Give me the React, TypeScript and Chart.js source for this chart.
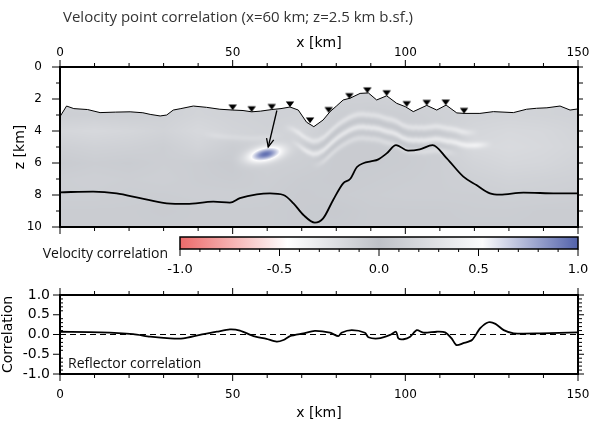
import React, { useEffect, useRef } from 'react';
import { Chart, registerables } from 'chart.js';

Chart.register(...registerables);

// Seafloor profile, x [km] / depth z [km]
const seafloorX = [0, 1.9, 4, 8, 11.6, 16, 20.3, 24, 26.1, 29, 30.9, 32.8, 35, 38.6, 42.4, 46.3, 50, 53, 55.5, 58, 61.3, 64, 66.6, 69, 71.4, 73.5, 76.2, 78.2, 80, 82, 84, 86.9, 89.3, 91.7, 94.6, 97.5, 100, 102.3, 106.2, 109.1, 111.8, 114.9, 117, 121.6, 125.5, 131.3, 135.1, 138, 141, 144.8, 147.7, 150];
const seafloorZ = [3.1, 2.44, 2.6, 2.66, 2.85, 2.82, 2.8, 2.86, 2.96, 3.06, 3.0, 2.69, 2.6, 2.44, 2.52, 2.64, 2.69, 2.72, 2.8, 2.76, 2.66, 2.6, 2.5, 2.69, 3.45, 3.73, 3.31, 2.79, 2.45, 2.06, 1.95, 1.65, 1.62, 2.06, 1.8, 2.27, 2.48, 2.79, 2.4, 2.69, 2.38, 2.87, 2.9, 2.9, 2.79, 2.85, 2.64, 2.58, 2.55, 2.44, 2.69, 2.62];

// Seafloor stations
const stationX = [50, 55.5, 61.3, 66.6, 72.4, 77.8, 83.8, 89, 94.6, 100.4, 106.2, 111.7, 117];
const stationZ = [2.69, 2.8, 2.66, 2.5, 3.5, 2.85, 1.98, 1.62, 1.8, 2.48, 2.4, 2.38, 2.9];

// Reflector depth
const reflectorX = [0, 9.6, 16.4, 23.2, 30.9, 36.7, 44.4, 49.2, 52.1, 57, 60.8, 64.7, 67.6, 70.5, 73.8, 76.2, 79.1, 82, 84, 86, 88, 90, 92.2, 94.6, 97.3, 100.8, 104.2, 107.9, 112, 116.8, 120.6, 124.5, 127.4, 134.2, 143.8, 150];
const reflectorZ = [7.83, 7.79, 7.9, 8.2, 8.52, 8.56, 8.42, 8.48, 8.2, 7.96, 7.9, 8.0, 8.52, 9.25, 9.73, 9.46, 8.31, 7.27, 7.0, 6.25, 6.0, 5.9, 5.77, 5.4, 4.88, 5.23, 5.15, 4.88, 5.71, 6.85, 7.38, 7.9, 7.98, 7.85, 7.9, 7.9];

// Pointer from the seafloor down to the reference point
const arrowX = [62.8, 60.3];
const arrowZ = [2.72, 5.0];

// Background velocity correlation, rows at fieldZ, columns at fieldX
const fieldX = [0, 10, 20, 30, 40, 50, 60, 70, 80, 90, 100, 110, 120, 130, 140, 150];
const fieldZ = [1, 2, 3, 4, 5, 6, 7, 8, 9, 10];
const fieldRows = [
  [0.15, 0.15, 0.15, 0.15, 0.15, 0.15, 0.15, 0.15, 0.15, 0.15, 0.15, 0.15, 0.15, 0.15, 0.15, 0.15],
  [0.15, 0.16, 0.15, 0.15, 0.16, 0.16, 0.15, 0.14, 0.14, 0.14, 0.15, 0.16, 0.16, 0.16, 0.16, 0.15],
  [0.12, 0.13, 0.12, 0.14, 0.17, 0.15, 0.14, 0.15, 0.12, 0.1, 0.12, 0.14, 0.16, 0.17, 0.16, 0.15],
  [0.19, 0.21, 0.19, 0.16, 0.21, 0.17, 0.15, 0.18, 0.1, 0.1, 0.11, 0.13, 0.19, 0.21, 0.2, 0.17],
  [0.13, 0.15, 0.14, 0.12, 0.17, 0.11, 0.14, 0.13, 0.09, 0.09, 0.1, 0.12, 0.21, 0.23, 0.21, 0.18],
  [0.09, 0.11, 0.1, 0.12, 0.11, 0.08, 0.13, 0.12, 0.09, 0.09, 0.1, 0.12, 0.17, 0.2, 0.19, 0.16],
  [0.12, 0.13, 0.12, 0.13, 0.11, 0.1, 0.12, 0.1, 0.09, 0.1, 0.11, 0.12, 0.14, 0.16, 0.15, 0.14],
  [0.12, 0.12, 0.11, 0.11, 0.12, 0.12, 0.11, 0.09, 0.1, 0.11, 0.12, 0.12, 0.12, 0.13, 0.13, 0.12],
  [0.1, 0.1, 0.1, 0.09, 0.1, 0.1, 0.1, 0.09, 0.08, 0.1, 0.1, 0.1, 0.11, 0.11, 0.1, 0.1],
  [0.1, 0.1, 0.1, 0.1, 0.1, 0.1, 0.1, 0.09, 0.09, 0.1, 0.1, 0.1, 0.1, 0.1, 0.1, 0.1],
];

// Layer-parallel streaks: x range, depth below the (smoothed) seafloor [km], correlation change
const bandFrom = [64, 66, 72, 40, 68, 72];
const bandTo = [122, 126, 116, 66, 120, 118];
const bandDepth = [1.2, 2.0, 2.7, 1.7, 1.6, 2.35];
const bandLift = [0.17, 0.22, 0.13, 0.07, -0.05, -0.04];
const bandHalfWidth = 0.2;

// Correlation peak at the reference point
const peakX = 59.5;
const peakZ = 5.45;
const peakValue = 0.95;
const peakSpreadX = 4.8;
const peakSpreadZ = 0.44;
const peakTilt = -0.04;

// Colour scale
const scaleStops = [-1, -0.46, 0, 0.52, 1];
const scaleColours: [number, number, number][] = [
  [236, 106, 106],
  [255, 255, 255],
  [190, 193, 199],
  [251, 251, 252],
  [82, 98, 170],
];

// Reflector correlation along the profile
const corrX = [0, 11.6, 21.2, 26.1, 31.9, 35.7, 40.5, 45.4, 49.2, 52.1, 56, 59.8, 62.7, 64.7, 66.6, 70.5, 73.8, 78.2, 80.6, 81.5, 84.5, 88.3, 89.3, 92.2, 95.6, 97.3, 98, 99.5, 101.4, 103.3, 105.3, 109.1, 111.5, 113.4, 114.8, 116.8, 119.3, 121.7, 124.1, 126.1, 128.5, 131.4, 139.2, 150];
const corrY = [0.07, 0.055, 0.01, -0.055, -0.1, -0.1, -0.01, 0.07, 0.13, 0.1, -0.04, -0.11, -0.18, -0.14, -0.04, 0.03, 0.09, 0.045, -0.04, 0.045, 0.11, 0.045, -0.07, -0.1, -0.01, 0.07, -0.1, -0.12, -0.055, 0.11, 0.045, 0.07, 0.055, -0.1, -0.27, -0.22, -0.14, 0.16, 0.31, 0.27, 0.11, 0.03, 0.03, 0.055];
const zeroX = [0, 150];
const zeroY = [0, 0];

const AXIS_FONT = "'DejaVu Sans', sans-serif";
const TEXT_FONT = "'Open Sans', sans-serif";

const clamp = (v: number, lo: number, hi: number) => Math.max(lo, Math.min(hi, v));
const toPoints = (xs: number[], ys: number[]) => xs.map((x, i) => ({ x, y: ys[i] }));

function lerpTable(xs: number[], ys: number[], x: number): number {
  if (x <= xs[0]) return ys[0];
  for (let i = 1; i < xs.length; i++) {
    if (x <= xs[i]) {
      const t = (x - xs[i - 1]) / (xs[i] - xs[i - 1]);
      return ys[i - 1] + t * (ys[i] - ys[i - 1]);
    }
  }
  return ys[ys.length - 1];
}

// Seafloor depth averaged over a few km, used as the reference for the streaks
function smoothSeafloor(x: number): number {
  let s = 0;
  const offs = [-3, -1.5, 0, 1.5, 3];
  for (const o of offs) s += lerpTable(seafloorX, seafloorZ, x + o);
  return s / offs.length;
}

function bracket(arr: number[], v: number): [number, number] {
  let i = 0;
  while (i < arr.length - 2 && v > arr[i + 1]) i++;
  return [i, clamp((v - arr[i]) / (arr[i + 1] - arr[i]), 0, 1)];
}

function smooth(e0: number, e1: number, x: number) {
  const t = clamp((x - e0) / (e1 - e0), 0, 1);
  return t * t * (3 - 2 * t);
}

function colourFor(v: number): [number, number, number] {
  const c = clamp(v, scaleStops[0], scaleStops[scaleStops.length - 1]);
  for (let i = 1; i < scaleStops.length; i++) {
    if (c <= scaleStops[i]) {
      const t = (c - scaleStops[i - 1]) / (scaleStops[i] - scaleStops[i - 1]);
      const a = scaleColours[i - 1];
      const b = scaleColours[i];
      return [a[0] + t * (b[0] - a[0]), a[1] + t * (b[1] - a[1]), a[2] + t * (b[2] - a[2])];
    }
  }
  return scaleColours[scaleColours.length - 1];
}

function fieldValue(x: number, z: number, seafloorRef: number): number {
  const [i, tx] = bracket(fieldX, x);
  const [j, tz] = bracket(fieldZ, z);
  const r0 = fieldRows[j];
  const r1 = fieldRows[j + 1];
  let v = (r0[i] * (1 - tx) + r0[i + 1] * tx) * (1 - tz) + (r1[i] * (1 - tx) + r1[i + 1] * tx) * tz;
  const d = z - seafloorRef;
  for (let b = 0; b < bandDepth.length; b++) {
    const taper = smooth(bandFrom[b], bandFrom[b] + 6, x) * (1 - smooth(bandTo[b] - 6, bandTo[b], x));
    if (taper <= 0) continue;
    const q = (d - bandDepth[b]) / bandHalfWidth;
    v += bandLift[b] * taper * Math.exp(-q * q);
  }
  const px = (x - peakX) / peakSpreadX;
  const pz = (z - (peakZ + peakTilt * (x - peakX))) / peakSpreadZ;
  const g = Math.exp(-(px * px + pz * pz));
  return v + (peakValue - v) * g;
}

const rgb = (c: number[]) => `rgb(${Math.round(c[0])},${Math.round(c[1])},${Math.round(c[2])})`;

// Correlation field below the seafloor
const fieldPlugin = {
  id: 'correlationField',
  beforeDatasetsDraw(chart: any) {
    const { ctx, chartArea: a, scales } = chart;
    const xs = scales.x;
    const ys = scales.y;
    const left = Math.round(a.left);
    const top = Math.round(a.top);
    const w = Math.round(a.right) - left;
    const h = Math.round(a.bottom) - top;
    const off = document.createElement('canvas');
    off.width = w;
    off.height = h;
    const octx = off.getContext('2d') as CanvasRenderingContext2D;
    const img = octx.createImageData(w, h);
    const dz = Math.abs(ys.getValueForPixel(top + 1) - ys.getValueForPixel(top));
    for (let i = 0; i < w; i++) {
      const xv = xs.getValueForPixel(left + i + 0.5);
      const sf = lerpTable(seafloorX, seafloorZ, xv);
      const sfRef = smoothSeafloor(xv);
      for (let j = 0; j < h; j++) {
        const zv = ys.getValueForPixel(top + j + 0.5);
        const alpha = clamp((zv - sf) / dz + 0.5, 0, 1);
        if (alpha <= 0) continue;
        const c = colourFor(fieldValue(xv, zv, sfRef));
        const k = (j * w + i) * 4;
        img.data[k] = c[0];
        img.data[k + 1] = c[1];
        img.data[k + 2] = c[2];
        img.data[k + 3] = Math.round(alpha * 255);
      }
    }
    octx.putImageData(img, 0, 0);
    ctx.drawImage(off, left, top);
  },
};

const arrowHeadPlugin = {
  id: 'arrowHead',
  afterDatasetsDraw(chart: any) {
    const { ctx, scales } = chart;
    const n = arrowX.length;
    const x0 = scales.x.getPixelForValue(arrowX[n - 2]);
    const y0 = scales.y.getPixelForValue(arrowZ[n - 2]);
    const x1 = scales.x.getPixelForValue(arrowX[n - 1]);
    const y1 = scales.y.getPixelForValue(arrowZ[n - 1]);
    const ang = Math.atan2(y1 - y0, x1 - x0);
    const len = 9;
    const spread = 0.42;
    ctx.save();
    ctx.strokeStyle = '#000';
    ctx.lineWidth = 1.3;
    ctx.beginPath();
    ctx.moveTo(x1 - len * Math.cos(ang - spread), y1 - len * Math.sin(ang - spread));
    ctx.lineTo(x1, y1);
    ctx.lineTo(x1 - len * Math.cos(ang + spread), y1 - len * Math.sin(ang + spread));
    ctx.stroke();
    ctx.restore();
  },
};

// Colour bar filled from the colour scale stops
const colourBarPlugin = {
  id: 'colourBar',
  beforeDatasetsDraw(chart: any) {
    const { ctx, chartArea: a, scales } = chart;
    const g = ctx.createLinearGradient(a.left, 0, a.right, 0);
    scaleStops.forEach((s, i) => {
      const p = (scales.x.getPixelForValue(s) - a.left) / (a.right - a.left);
      g.addColorStop(clamp(p, 0, 1), rgb(scaleColours[i]));
    });
    ctx.save();
    ctx.fillStyle = g;
    ctx.fillRect(a.left, a.top, a.right - a.left, a.bottom - a.top);
    ctx.restore();
  },
};

// Frame and tick marks along the plot edges
const frameTicksPlugin = {
  id: 'frameTicks',
  afterDraw(chart: any, _args: any, opts: any) {
    const { ctx, chartArea: a } = chart;
    ctx.save();
    ctx.strokeStyle = '#000';
    ctx.lineWidth = 1;
    for (const t of opts.ticks || []) {
      const scale = chart.scales[t.scale];
      const n = Math.round((t.to - t.from) / t.step);
      for (let i = 0; i <= n; i++) {
        const v = t.from + i * t.step;
        const r = v / t.major;
        const major = Math.abs(r - Math.round(r)) < 1e-6;
        const len = major ? t.majorLen : t.minorLen;
        const sign = !major && t.minorInside ? -1 : 1;
        const p = scale.getPixelForValue(v);
        ctx.beginPath();
        if (t.edge === 'top') {
          ctx.moveTo(p, a.top);
          ctx.lineTo(p, a.top - sign * len);
        } else if (t.edge === 'bottom') {
          ctx.moveTo(p, a.bottom);
          ctx.lineTo(p, a.bottom + sign * len);
        } else if (t.edge === 'left') {
          ctx.moveTo(a.left, p);
          ctx.lineTo(a.left - sign * len, p);
        } else {
          ctx.moveTo(a.right, p);
          ctx.lineTo(a.right + sign * len, p);
        }
        ctx.stroke();
      }
    }
    ctx.lineWidth = opts.width || 2;
    ctx.strokeRect(a.left, a.top, a.right - a.left, a.bottom - a.top);
    ctx.restore();
  },
};

const captionsPlugin = {
  id: 'captions',
  afterDraw(chart: any, _args: any, opts: any) {
    const { ctx } = chart;
    ctx.save();
    for (const c of opts.items || []) {
      ctx.font = c.font;
      ctx.fillStyle = c.color;
      ctx.textAlign = c.align || 'left';
      ctx.textBaseline = 'middle';
      ctx.fillText(c.text, c.x, c.y);
    }
    ctx.restore();
  },
};

const fixSize = (size: { width?: number; height?: number }) => (s: any) => {
  if (size.width !== undefined) s.width = size.width;
  if (size.height !== undefined) s.height = size.height;
  s.paddingLeft = 0;
  s.paddingRight = 0;
  s.paddingTop = 0;
  s.paddingBottom = 0;
};

const isMultiple = (v: number, m: number) => Math.abs(v / m - Math.round(v / m)) < 1e-6;

const baseOptions = {
  animation: false as const,
  responsive: false,
  events: [] as any[],
};

function makeStationMarker(): HTMLCanvasElement {
  const c = document.createElement('canvas');
  c.width = 10;
  c.height = 14;
  const m = c.getContext('2d') as CanvasRenderingContext2D;
  m.fillStyle = '#000';
  m.beginPath();
  m.moveTo(0.8, 1.5);
  m.lineTo(9.2, 1.5);
  m.lineTo(5, 7.3);
  m.closePath();
  m.fill();
  return c;
}

export default function App() {
  const sectionRef = useRef<HTMLCanvasElement>(null);
  const barRef = useRef<HTMLCanvasElement>(null);
  const corrRef = useRef<HTMLCanvasElement>(null);

  useEffect(() => {
    const marker = makeStationMarker();

    const section = new Chart(sectionRef.current as HTMLCanvasElement, {
      type: 'line',
      data: {
        datasets: [
          {
            label: 'Stations',
            data: toPoints(stationX, stationZ),
            showLine: false,
            pointStyle: marker as any,
            pointRadius: 5,
          },
          {
            label: 'Seafloor',
            data: toPoints(seafloorX, seafloorZ),
            borderColor: '#000',
            borderWidth: 1,
            pointRadius: 0,
            tension: 0,
          },
          {
            label: 'Pointer',
            data: toPoints(arrowX, arrowZ),
            borderColor: '#000',
            borderWidth: 1.3,
            pointRadius: 0,
          },
          {
            label: 'Reflector',
            data: toPoints(reflectorX, reflectorZ),
            borderColor: '#000',
            borderWidth: 1.8,
            pointRadius: 0,
            cubicInterpolationMode: 'monotone',
          },
        ],
      },
      options: {
        ...baseOptions,
        layout: { padding: { left: 0, right: 14, top: 0, bottom: 7 } },
        plugins: {
          legend: { display: false },
          tooltip: { enabled: false },
          frameTicks: {
            width: 2,
            ticks: [
              { scale: 'x', edge: 'top', from: 0, to: 150, step: 10, major: 50, majorLen: 7, minorLen: 4 },
              { scale: 'x', edge: 'bottom', from: 0, to: 150, step: 10, major: 50, majorLen: 7, minorLen: 4 },
              { scale: 'y', edge: 'left', from: 0, to: 10, step: 1, major: 2, majorLen: 8, minorLen: 4 },
              { scale: 'y', edge: 'right', from: 0, to: 10, step: 1, major: 2, majorLen: 5, minorLen: 5 },
            ],
          },
          captions: {
            items: [
              { text: 'Velocity point correlation (x=60 km; z=2.5 km b.sf.)', x: 63, y: 18, font: `15px ${TEXT_FONT}`, color: '#333' },
            ],
          },
        } as any,
        scales: {
          x: {
            type: 'linear',
            position: 'top',
            min: 0,
            max: 150,
            afterFit: fixSize({ height: 67 }),
            grid: { display: false, drawTicks: false },
            border: { display: false },
            ticks: {
              stepSize: 10,
              autoSkip: false,
              maxRotation: 0,
              padding: 6.5,
              color: '#000',
              font: { family: AXIS_FONT, size: 12 },
              callback: (v: any) => (isMultiple(Number(v), 50) ? String(v) : ''),
            },
            title: {
              display: true,
              text: 'x [km]',
              color: '#000',
              font: { family: AXIS_FONT, size: 14 },
              padding: { top: 35, bottom: 0 },
            },
          },
          y: {
            type: 'linear',
            position: 'left',
            reverse: true,
            min: 0,
            max: 10,
            afterFit: fixSize({ width: 60 }),
            grid: { display: false, drawTicks: false },
            border: { display: false },
            ticks: {
              stepSize: 1,
              autoSkip: false,
              padding: 18,
              color: '#000',
              font: { family: AXIS_FONT, size: 12 },
              callback: (v: any) => (isMultiple(Number(v), 2) ? String(v) : ''),
            },
            title: {
              display: true,
              text: 'z [km]',
              color: '#000',
              font: { family: AXIS_FONT, size: 14 },
              padding: { top: 12, bottom: 0 },
            },
          },
        },
      },
      plugins: [fieldPlugin, arrowHeadPlugin, frameTicksPlugin, captionsPlugin],
    });

    const bar = new Chart(barRef.current as HTMLCanvasElement, {
      type: 'line',
      data: { datasets: [] },
      options: {
        ...baseOptions,
        layout: { padding: { left: 180, right: 14, top: 5, bottom: 0 } },
        plugins: {
          legend: { display: false },
          tooltip: { enabled: false },
          frameTicks: {
            width: 1.5,
            ticks: [{ scale: 'x', edge: 'bottom', from: -1, to: 1, step: 0.1, major: 0.5, majorLen: 7, minorLen: 3 }],
          },
          captions: {
            items: [
              { text: 'Velocity correlation', x: 168, y: 22, font: `14px ${TEXT_FONT}`, color: '#111', align: 'right' },
            ],
          },
        } as any,
        scales: {
          x: {
            type: 'linear',
            position: 'bottom',
            min: -1,
            max: 1,
            afterFit: fixSize({ height: 31 }),
            grid: { display: false, drawTicks: false },
            border: { display: false },
            ticks: {
              stepSize: 0.5,
              autoSkip: false,
              maxRotation: 0,
              padding: 13,
              color: '#000',
              font: { family: AXIS_FONT, size: 13 },
              callback: (v: any) => Number(v).toFixed(1),
            },
          },
          y: { type: 'linear', display: false, min: 0, max: 1 },
        },
      },
      plugins: [colourBarPlugin, frameTicksPlugin, captionsPlugin],
    });

    const corr = new Chart(corrRef.current as HTMLCanvasElement, {
      type: 'line',
      data: {
        datasets: [
          {
            label: 'Reflector correlation',
            data: toPoints(corrX, corrY),
            borderColor: '#000',
            borderWidth: 1.8,
            pointRadius: 0,
            tension: 0.25,
          },
          {
            label: 'Zero',
            data: toPoints(zeroX, zeroY),
            borderColor: '#000',
            borderWidth: 1,
            borderDash: [6, 4],
            pointRadius: 0,
          },
        ],
      },
      options: {
        ...baseOptions,
        layout: { padding: { left: 0, right: 14, top: 15, bottom: 0 } },
        plugins: {
          legend: { display: false },
          tooltip: { enabled: false },
          frameTicks: {
            width: 2,
            ticks: [
              { scale: 'x', edge: 'top', from: 0, to: 150, step: 10, major: 50, majorLen: 7, minorLen: 4 },
              { scale: 'x', edge: 'bottom', from: 0, to: 150, step: 10, major: 50, majorLen: 7, minorLen: 4 },
              { scale: 'y', edge: 'left', from: -1, to: 1, step: 0.1, major: 0.5, majorLen: 7, minorLen: 3, minorInside: true },
              { scale: 'y', edge: 'right', from: -1, to: 1, step: 0.1, major: 0.5, majorLen: 6, minorLen: 4 },
            ],
          },
          captions: {
            items: [
              { text: 'Reflector correlation', x: 68, y: 84, font: `14px ${TEXT_FONT}`, color: '#111' },
            ],
          },
        } as any,
        scales: {
          x: {
            type: 'linear',
            position: 'bottom',
            min: 0,
            max: 150,
            afterFit: fixSize({ height: 48 }),
            grid: { display: false, drawTicks: false },
            border: { display: false },
            ticks: {
              stepSize: 10,
              autoSkip: false,
              maxRotation: 0,
              padding: 13.8,
              color: '#000',
              font: { family: AXIS_FONT, size: 12 },
              callback: (v: any) => (isMultiple(Number(v), 50) ? String(v) : ''),
            },
            title: {
              display: true,
              text: 'x [km]',
              color: '#000',
              font: { family: AXIS_FONT, size: 14 },
              padding: { top: 0, bottom: 0.6 },
            },
          },
          y: {
            type: 'linear',
            position: 'left',
            min: -1,
            max: 1,
            afterFit: fixSize({ width: 60 }),
            grid: { display: false, drawTicks: false },
            border: { display: false },
            ticks: {
              stepSize: 0.1,
              autoSkip: false,
              padding: 10,
              color: '#000',
              font: { family: AXIS_FONT, size: 14 },
              callback: (v: any) => (isMultiple(Number(v), 0.5) ? Number(v).toFixed(1) : ''),
            },
            title: {
              display: true,
              text: 'Correlation',
              color: '#000',
              font: { family: AXIS_FONT, size: 14 },
              padding: { top: 0.4, bottom: 0 },
            },
          },
        },
      },
      plugins: [frameTicksPlugin, captionsPlugin],
    });

    return () => {
      section.destroy();
      bar.destroy();
      corr.destroy();
    };
  }, []);

  return (
    <div style={{ position: 'fixed', left: 0, top: 0, width: 592, height: 422, background: '#fff', overflow: 'hidden' }}>
      <canvas ref={sectionRef} width={592} height={234} style={{ position: 'absolute', left: 0, top: 0 }} />
      <canvas ref={barRef} width={592} height={48} style={{ position: 'absolute', left: 0, top: 232 }} />
      <canvas ref={corrRef} width={592} height={142} style={{ position: 'absolute', left: 0, top: 280 }} />
    </div>
  );
}
